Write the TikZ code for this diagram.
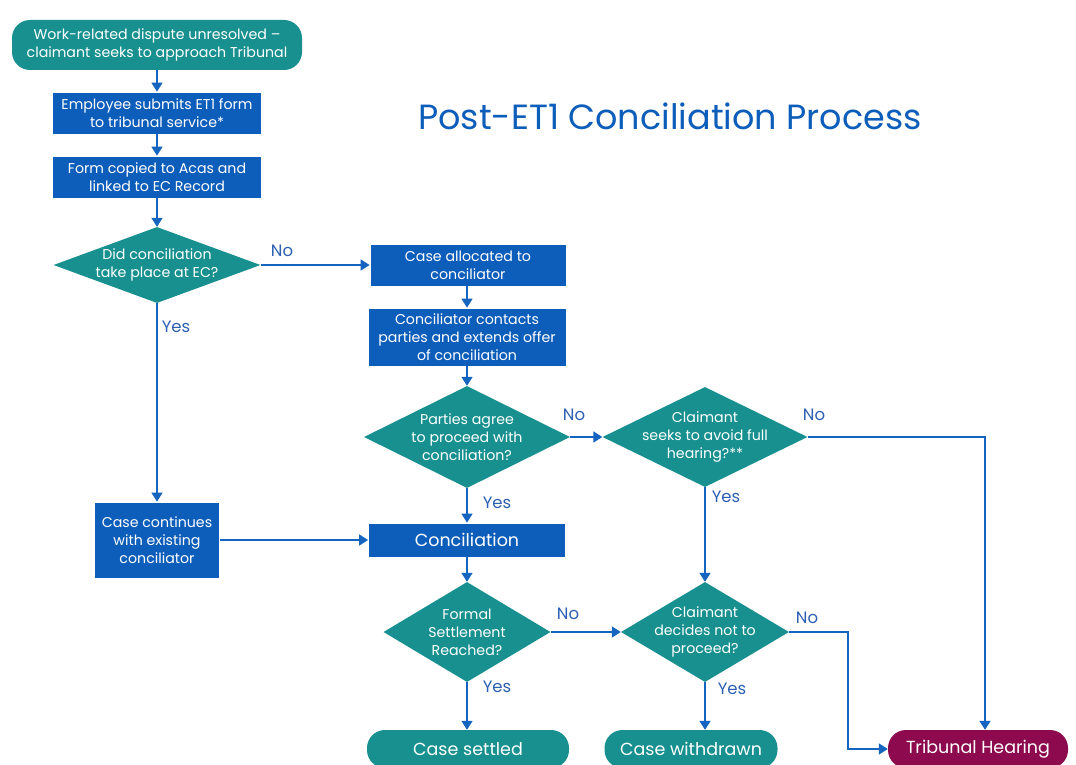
\documentclass[tikz,border=0pt]{standalone}
\usepackage{fontspec}
\setmainfont{Poppins}
\usetikzlibrary{shapes.geometric,arrows.meta}
\definecolor{tealc}{HTML}{17908F}
\definecolor{bluebox}{HTML}{0D5DBA}
\definecolor{arrowc}{HTML}{1565C0}
\definecolor{labelc}{HTML}{2C5FB3}
\definecolor{maroon}{HTML}{8C0A4D}
\begin{document}
\begin{tikzpicture}[x=1pt,y=-1pt,
  every node/.style={font=\fontsize{14.2}{18}\selectfont, text=white, align=center, inner sep=0pt},
  procbox/.style={fill=bluebox, draw=white, line width=0.8pt},
  termbox/.style={fill=tealc, rounded corners=18pt},
  decision/.style={diamond, fill=tealc, aspect=2},
  dtext/.style={text=white, align=center},
  lab/.style={text=labelc, font=\fontsize{16.5}{18}\selectfont},
  conn/.style={draw=arrowc, line width=1.6pt, -{Triangle[length=9pt,width=11pt]}},
  bigtext/.style={font=\fontsize{17.5}{20}\selectfont}
]
\useasboundingbox (0,0) rectangle (1076,765);
\fill[white] (0,0) rectangle (1076,765);

% title
\node[text=bluebox, font=\fontsize{35}{38}\selectfont] (title) at (670,116) {Post-ET1 Conciliation Process};

% nodes
\node[termbox, minimum width=290, minimum height=50] (start) at (157,45) {Work-related dispute unresolved --\\claimant seeks to approach Tribunal};
\node[procbox, minimum width=209, minimum height=42] (b1) at (157,113) {Employee submits ET1 form\\to tribunal service*};
\node[procbox, minimum width=209, minimum height=42] (b2) at (157,177) {Form copied to Acas and\\linked to EC Record};
\node[decision, minimum width=207, minimum height=76, label={[dtext]center:{Did conciliation\\take place at EC?}}] (d1) at (157,265) {};
\node[procbox, minimum width=196, minimum height=42] (b3) at (468,265) {Case allocated to\\conciliator};
\node[procbox, minimum width=198, minimum height=58] (b4) at (467,337) {Conciliator contacts\\parties and extends offer\\of conciliation};
\node[decision, minimum width=206, minimum height=102, label={[dtext]center:{Parties agree\\to proceed with\\conciliation?}}] (d2) at (467,437) {};
\node[decision, minimum width=205, minimum height=100, label={[dtext]center:{Claimant\\seeks to avoid full\\hearing?**}}] (d3) at (705,437) {};
\node[procbox, minimum width=125, minimum height=76] (b5) at (157,540) {Case continues\\with existing\\conciliator};
\node[procbox, minimum width=197, minimum height=34, bigtext] (conc) at (467,540) {Conciliation};
\node[decision, minimum width=167, minimum height=100, label={[dtext]center:{Formal\\Settlement\\Reached?}}] (d4) at (467,632) {};
\node[decision, minimum width=168, minimum height=100, label={[dtext]center:{Claimant\\decides not to\\proceed?}}] (d5) at (705,632) {};
\node[termbox, minimum width=202, minimum height=38, bigtext] (settled) at (468,749) {Case settled};
\node[termbox, minimum width=173, minimum height=38, bigtext] (withdrawn) at (691,749) {Case withdrawn};
\node[termbox, fill=maroon, minimum width=180, minimum height=38, bigtext] (tribunal) at (978,749) {Tribunal Hearing};

% connectors
\draw[conn] (start) -- (b1);
\draw[conn] (b1) -- (b2);
\draw[conn] (b2) -- (d1);
\draw[conn] (d1.east) -- (b3.west);
\draw[conn] (b3.south -| b4.north) -- (b4.north);
\draw[conn] (b4) -- (d2);
\draw[conn] (d1.south) -- (b5.north);
\draw[conn] (b5.east) -- (conc.west);
\draw[conn] (d2.east) -- (d3.west);
\draw[conn] (d2.south) -- (conc.north);
\draw[conn] (conc) -- (d4);
\draw[conn] (d4.east) -- (d5.west);
\draw[conn] (d4.south) -- (d4.south |- settled.north);
\draw[conn] (d5.south) -- (d5.south |- withdrawn.north);
\draw[conn] (d3.south) -- (d5.north);
\coordinate (c1) at (985,437);
\draw[conn] (d3.east) -- (c1) -- (c1 |- tribunal.north);
\coordinate (c2) at (848,632);
\draw[conn] (d5.east) -- (c2) |- (tribunal.west);

% labels
\node[lab] (l1) at (282,251) {No};
\node[lab] (l2) at (176,327) {Yes};
\node[lab] (l3) at (574,415) {No};
\node[lab] (l4) at (814,415) {No};
\node[lab] (l5) at (497,503) {Yes};
\node[lab] (l6) at (726,497) {Yes};
\node[lab] (l7) at (568,614) {No};
\node[lab] (l8) at (807,618) {No};
\node[lab] (l9) at (497,687) {Yes};
\node[lab] (l10) at (732,689) {Yes};
\end{tikzpicture}
\end{document}
